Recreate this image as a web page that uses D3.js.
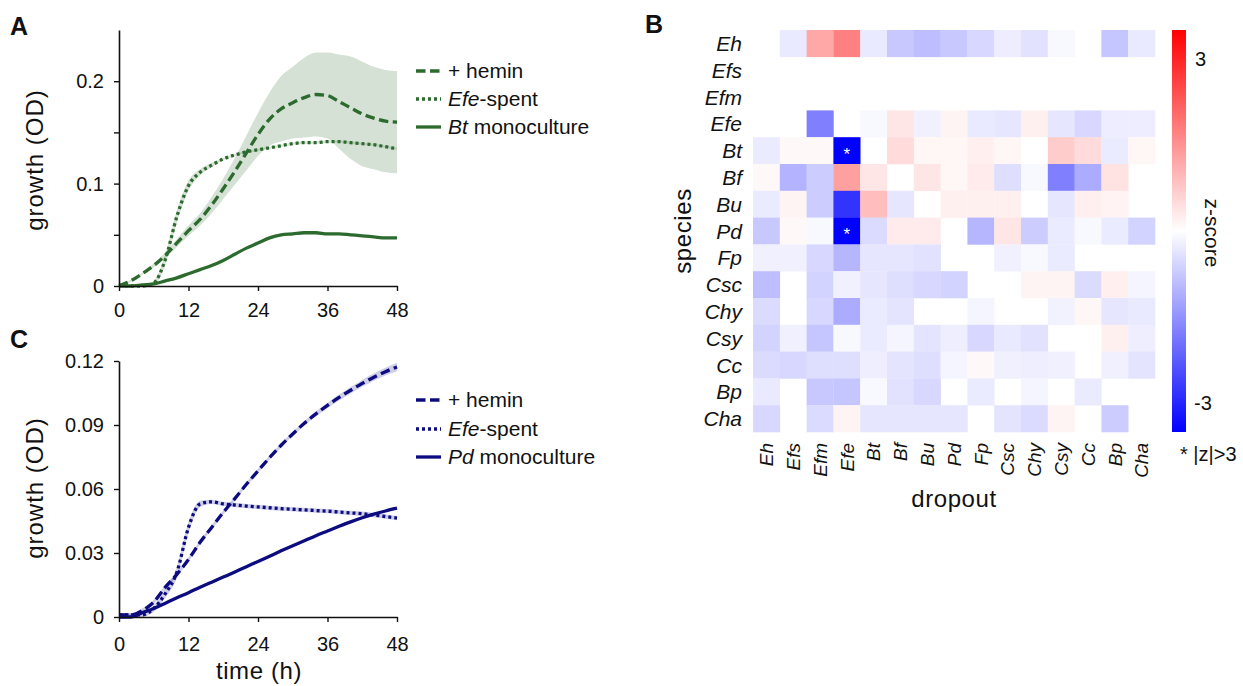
<!DOCTYPE html>
<html>
<head>
<meta charset="utf-8">
<script src="https://cdn.jsdelivr.net/npm/d3@7"></script>
<style>
  body { margin: 0; background: #fff; }
  svg { display: block; font-family: "Liberation Sans", Arial, sans-serif; }
</style>
</head>
<body>
<div id="chart"></div>
<script>
// ---- growth curves (hours, OD) ----
const hours = [0, 2, 4, 6, 8, 10, 12, 14, 16, 18, 20, 22, 24, 26, 28, 30, 32, 34, 36, 38, 40, 42, 44, 46, 48];

// panel A: Bt
const btHemin    = [0, 0.005, 0.012, 0.020, 0.030, 0.042, 0.054, 0.065, 0.079, 0.095, 0.112, 0.130, 0.148, 0.163, 0.173, 0.179, 0.184, 0.187, 0.186, 0.180, 0.174, 0.168, 0.164, 0.161, 0.160];
const btHeminSd  = [0, 0.001, 0.001, 0.002, 0.003, 0.004, 0.005, 0.006, 0.008, 0.010, 0.013, 0.017, 0.021, 0.026, 0.032, 0.035, 0.039, 0.041, 0.042, 0.046, 0.050, 0.051, 0.050, 0.050, 0.050];
const btSpent    = [0.001, 0, 0, 0.003, 0.026, 0.068, 0.098, 0.111, 0.118, 0.124, 0.128, 0.131, 0.133, 0.135, 0.137, 0.139, 0.140, 0.140, 0.141, 0.141, 0.140, 0.139, 0.138, 0.136, 0.134];
const btSpentSd  = [0, 0, 0, 0.002, 0.005, 0.006, 0.005, 0.003, 0.002, 0.001, 0.001, 0.001, 0.001, 0.001, 0.001, 0.001, 0.001, 0.001, 0.001, 0.001, 0.001, 0.001, 0.001, 0.001, 0.001];
const btMono     = [0, 0, 0.001, 0.002, 0.005, 0.008, 0.012, 0.016, 0.020, 0.025, 0.031, 0.037, 0.042, 0.047, 0.050, 0.051, 0.052, 0.052, 0.051, 0.051, 0.050, 0.049, 0.048, 0.047, 0.047];

// panel C: Pd
const pdHemin    = [0.001, 0.001, 0.003, 0.007, 0.014, 0.020, 0.027, 0.035, 0.042, 0.049, 0.0555, 0.0622, 0.0685, 0.0747, 0.0805, 0.0858, 0.0908, 0.0952, 0.0992, 0.1029, 0.1063, 0.1095, 0.1124, 0.115, 0.1172];
const pdHeminSd  = [0.0008, 0.0008, 0.001, 0.001, 0.001, 0.001, 0.001, 0.001, 0.001, 0.001, 0.001, 0.001, 0.001, 0.001, 0.001, 0.001, 0.001, 0.0012, 0.0012, 0.0014, 0.0015, 0.0016, 0.0017, 0.0018, 0.002];
const pdSpent    = [0.001, 0.001, 0.001, 0.004, 0.011, 0.021, 0.042, 0.053, 0.054, 0.053, 0.0525, 0.052, 0.0516, 0.0512, 0.0508, 0.0505, 0.0502, 0.0499, 0.0496, 0.0492, 0.0488, 0.0484, 0.0478, 0.0471, 0.0464];
const pdSpentSd  = [0.0008, 0.0008, 0.001, 0.0015, 0.002, 0.0025, 0.0025, 0.0015, 0.001, 0.001, 0.001, 0.001, 0.001, 0.001, 0.001, 0.001, 0.001, 0.001, 0.001, 0.001, 0.001, 0.001, 0.001, 0.001, 0.001];
const pdMono     = [0, 0, 0.002, 0.004, 0.0065, 0.009, 0.0114, 0.014, 0.0163, 0.0187, 0.0211, 0.0236, 0.026, 0.0285, 0.031, 0.0334, 0.0357, 0.0381, 0.0403, 0.0425, 0.0446, 0.0465, 0.0482, 0.0497, 0.051];

const xTicks = [0, 12, 24, 36, 48];
const yTicksA = [0, 0.05, 0.1, 0.15, 0.2];
const yLabelsA = ["0", "", "0.1", "", "0.2"];
const yTicksC = [0, 0.03, 0.06, 0.09, 0.12];
const yLabelsC = ["0", "0.03", "0.06", "0.09", "0.12"];

// ---- heatmap: z-scores, rows = species, columns = dropout ----
const species = ["Eh", "Efs", "Efm", "Efe", "Bt", "Bf", "Bu", "Pd", "Fp", "Csc", "Chy", "Csy", "Cc", "Bp", "Cha"];
const dropout = ["Eh", "Efs", "Efm", "Efe", "Bt", "Bf", "Bu", "Pd", "Fp", "Csc", "Chy", "Csy", "Cc", "Bp", "Cha"];
const zScores = [
  [null, -0.3, 1.2, 1.75, -0.3, -0.75, -0.9, -0.75, -0.55, -0.25, -0.4, -0.1, null, -0.8, -0.3],
  [null, null, null, null, null, null, null, null, null, null, null, null, null, null, null],
  [null, null, null, null, null, null, null, null, null, null, null, null, null, null, null],
  [null, null, -1.75, null, -0.1, 0.35, -0.2, 0.15, -0.3, -0.35, 0.2, -0.35, -0.55, -0.25, -0.25],
  [-0.27, 0.1, 0.1, -3.8, null, 0.5, 0.12, 0.12, 0.22, 0.12, 0, 0.7, 0.5, -0.27, 0.12],
  [0.1, -1.05, -0.7, 1.3, 0.35, null, 0.35, 0.12, 0.27, -0.45, -0.1, -1.75, -1.15, 0.4, null],
  [-0.27, 0.15, -0.7, -2.8, 0.9, -0.35, null, 0.2, 0.2, 0.2, 0, -0.35, 0.22, 0.17, null],
  [-0.75, 0.1, -0.1, -3.8, -0.5, 0.27, 0.27, null, -1.0, 0.35, -0.7, -0.27, -0.1, -0.27, -0.6],
  [-0.2, -0.2, -0.55, -1.0, -0.35, -0.35, -0.4, null, null, -0.2, -0.1, -0.27, null, null, null],
  [-0.9, null, -0.6, -0.2, -0.35, -0.45, -0.55, -0.6, null, null, 0.15, 0.15, -0.5, 0.22, -0.14],
  [-0.5, null, -0.55, -1.15, -0.27, -0.37, null, null, -0.14, null, null, -0.18, 0.12, -0.35, -0.3],
  [-0.6, -0.2, -0.8, -0.1, -0.27, -0.14, -0.37, -0.24, -0.55, -0.3, -0.4, null, null, 0.2, -0.24],
  [-0.5, -0.55, -0.45, -0.45, -0.24, -0.37, -0.45, -0.14, 0.1, -0.2, -0.24, -0.2, null, -0.2, -0.37],
  [-0.3, null, -0.75, -0.8, -0.1, -0.4, -0.55, null, -0.27, null, -0.14, null, -0.27, null, null],
  [-0.55, null, -0.5, 0.15, -0.35, -0.35, -0.35, -0.35, null, -0.37, -0.5, 0.15, null, -0.7, null]
];
const cbTicks = [3, -3];

// ---- svg ----
const W = 1243, H = 686;
const svg = d3.select("#chart").append("svg").attr("width", W).attr("height", H);
svg.append("rect").attr("width", W).attr("height", H).attr("fill", "#fff");

const green = "#2c6a2e";
const navy = "#0c0c80";

// panel letters
[["A", 10, 35], ["B", 645, 33], ["C", 10, 348]].forEach(([t, x, y]) => {
  svg.append("text").attr("x", x).attr("y", y).attr("font-size", 25)
    .attr("font-weight", "bold").attr("fill", "#111").text(t);
});

function linePanel(opt) {
  const x = d3.scaleLinear().domain([0, 48]).range([119, 397]);
  const y = d3.scaleLinear().domain([0, opt.yMax]).range([opt.y0, opt.yTop]);
  const g = svg.append("g");

  // bands
  opt.series.filter(s => s.sd).forEach(s => {
    const area = d3.area()
      .x((d, i) => x(hours[i]))
      .y0((d, i) => y(Math.max(0, d - s.sd[i])))
      .y1((d, i) => y(d + s.sd[i]))
      .curve(d3.curveMonotoneX);
    g.append("path").attr("d", area(s.values))
      .attr("fill", opt.color).attr("fill-opacity", 0.2);
  });

  // lines
  opt.series.forEach(s => {
    const line = d3.line().x((d, i) => x(hours[i])).y(d => y(d)).curve(d3.curveMonotoneX);
    g.append("path").attr("d", line(s.values))
      .attr("fill", "none").attr("stroke", opt.color).attr("stroke-width", 3.3)
      .attr("stroke-dasharray", s.dash);
  });

  // axes
  const ax = g.append("g").attr("transform", `translate(0,${opt.y0})`)
    .call(d3.axisBottom(x).tickValues(xTicks).tickSize(5).tickSizeOuter(0).tickPadding(opt.xPad));
  const ay = g.append("g").attr("transform", "translate(119,0)")
    .call(d3.axisLeft(y).tickValues(opt.yTicks).tickSize(5).tickSizeOuter(0).tickPadding(10)
      .tickFormat((d, i) => opt.yLabels[i]));
  [ax, ay].forEach(a => {
    a.select(".domain").attr("stroke", "#111").attr("stroke-width", 1.6);
    a.selectAll(".tick line").attr("stroke", "#111").attr("stroke-width", 1.4);
    a.selectAll("text").attr("font-size", 20).attr("fill", "#111")
      .attr("font-family", "Liberation Sans, Arial, sans-serif");
  });

  // y title
  svg.append("text").attr("transform", `translate(43,${opt.titleY}) rotate(-90)`)
    .attr("text-anchor", "middle").attr("font-size", 24).attr("letter-spacing", 1)
    .attr("fill", "#111").text("growth (OD)");

  // legend
  opt.series.forEach((s, i) => {
    const ly = opt.legendY[i];
    svg.append("line").attr("x1", 416).attr("x2", 441).attr("y1", ly).attr("y2", ly)
      .attr("stroke", opt.color).attr("stroke-width", 3.3).attr("stroke-dasharray", s.dash);
    const t = svg.append("text").attr("x", 448).attr("y", ly + 7).attr("font-size", 21).attr("fill", "#111");
    s.label.forEach(p => t.append("tspan").attr("font-style", p.i ? "italic" : "normal").text(p.t));
  });
}

linePanel({
  color: green, yMax: 0.25, y0: 286, yTop: 30, yTicks: yTicksA, yLabels: yLabelsA,
  xPad: 12, titleY: 160, legendY: [71, 99, 127],
  series: [
    { values: btHemin, sd: btHeminSd, dash: "9.5,4.5", label: [{ t: "+ hemin" }] },
    { values: btSpent, sd: btSpentSd, dash: "3,3", label: [{ t: "Efe", i: true }, { t: "-spent" }] },
    { values: btMono, dash: null, label: [{ t: "Bt", i: true }, { t: " monoculture" }] }
  ]
});

linePanel({
  color: navy, yMax: 0.12, y0: 617, yTop: 361, yTicks: yTicksC, yLabels: yLabelsC,
  xPad: 14.5, titleY: 488, legendY: [400, 429, 457],
  series: [
    { values: pdHemin, sd: pdHeminSd, dash: "9.5,4.5", label: [{ t: "+ hemin" }] },
    { values: pdSpent, sd: pdSpentSd, dash: "3,3", label: [{ t: "Efe", i: true }, { t: "-spent" }] },
    { values: pdMono, dash: null, label: [{ t: "Pd", i: true }, { t: " monoculture" }] }
  ]
});

svg.append("text").attr("x", 259).attr("y", 679).attr("text-anchor", "middle")
  .attr("font-size", 24).attr("letter-spacing", 0.6).attr("fill", "#111").text("time (h)");

// ---- heatmap ----
const xH = d3.scaleBand().domain(dropout).range([753, 1155]);
const yH = d3.scaleBand().domain(species).range([30, 432]);
const zMax = 3.5;
const zColor = z => {
  const t = Math.min(1, Math.abs(z) / zMax);
  return z >= 0 ? d3.interpolateRgb("#ffffff", "#ff0000")(t) : d3.interpolateRgb("#ffffff", "#0000ff")(t);
};

const cells = [];
zScores.forEach((row, r) => row.forEach((z, c) => {
  if (z !== null) cells.push({ sp: species[r], dr: dropout[c], z });
}));

const gH = svg.append("g");
gH.selectAll("rect.cell").data(cells).join("rect")
  .attr("class", "cell")
  .attr("x", d => xH(d.dr)).attr("y", d => yH(d.sp))
  .attr("width", xH.bandwidth() + 0.3).attr("height", yH.bandwidth() + 0.3)
  .attr("fill", d => zColor(d.z));

gH.selectAll("text.star").data(cells.filter(d => Math.abs(d.z) > 3)).join("text")
  .attr("class", "star")
  .attr("x", d => xH(d.dr) + xH.bandwidth() / 2)
  .attr("y", d => yH(d.sp) + yH.bandwidth() / 2 + 9)
  .attr("text-anchor", "middle").attr("font-size", 17).attr("fill", "#fff").text("*");

// row labels
gH.selectAll("text.row").data(species).join("text")
  .attr("class", "row")
  .attr("x", 742).attr("y", d => yH(d) + yH.bandwidth() / 2)
  .attr("dy", "0.36em").attr("text-anchor", "end")
  .attr("font-size", 21).attr("font-style", "italic").attr("fill", "#111").text(d => d);

// column labels
gH.selectAll("text.col").data(dropout).join("text")
  .attr("class", "col")
  .attr("transform", d => `translate(${xH(d) + xH.bandwidth() / 2},443) rotate(-90)`)
  .attr("dy", "0.36em").attr("text-anchor", "end")
  .attr("font-size", 19).attr("font-style", "italic").attr("fill", "#111").text(d => d);

svg.append("text").attr("transform", "translate(691,231) rotate(-90)")
  .attr("text-anchor", "middle").attr("font-size", 24).attr("letter-spacing", 0.6)
  .attr("fill", "#111").text("species");
svg.append("text").attr("x", 954).attr("y", 507).attr("text-anchor", "middle")
  .attr("font-size", 24).attr("letter-spacing", 0.6).attr("fill", "#111").text("dropout");

// colour bar
const cb = d3.scaleLinear().domain([-zMax, zMax]).range([432, 30]);
const grad = svg.append("defs").append("linearGradient").attr("id", "zgrad")
  .attr("x1", 0).attr("x2", 0).attr("y1", 0).attr("y2", 1);
[[0, "#ff0000"], [0.5, "#ffffff"], [1, "#0000ff"]].forEach(([o, c]) =>
  grad.append("stop").attr("offset", o).attr("stop-color", c));
svg.append("rect").attr("x", 1172).attr("y", 30).attr("width", 14).attr("height", 402)
  .attr("fill", "url(#zgrad)");
svg.selectAll("text.cbt").data(cbTicks).join("text")
  .attr("class", "cbt")
  .attr("x", d => d > 0 ? 1195 : 1194).attr("y", d => cb(d)).attr("dy", "0.36em")
  .attr("font-size", 20).attr("fill", "#111").text(d => d);
svg.append("text").attr("transform", "translate(1205,233) rotate(90)")
  .attr("text-anchor", "middle").attr("font-size", 21).attr("fill", "#111").text("z-score");
svg.append("text").attr("x", 1180).attr("y", 461).attr("font-size", 20).attr("fill", "#111")
  .text("* |z|>3");
</script>
</body>
</html>
